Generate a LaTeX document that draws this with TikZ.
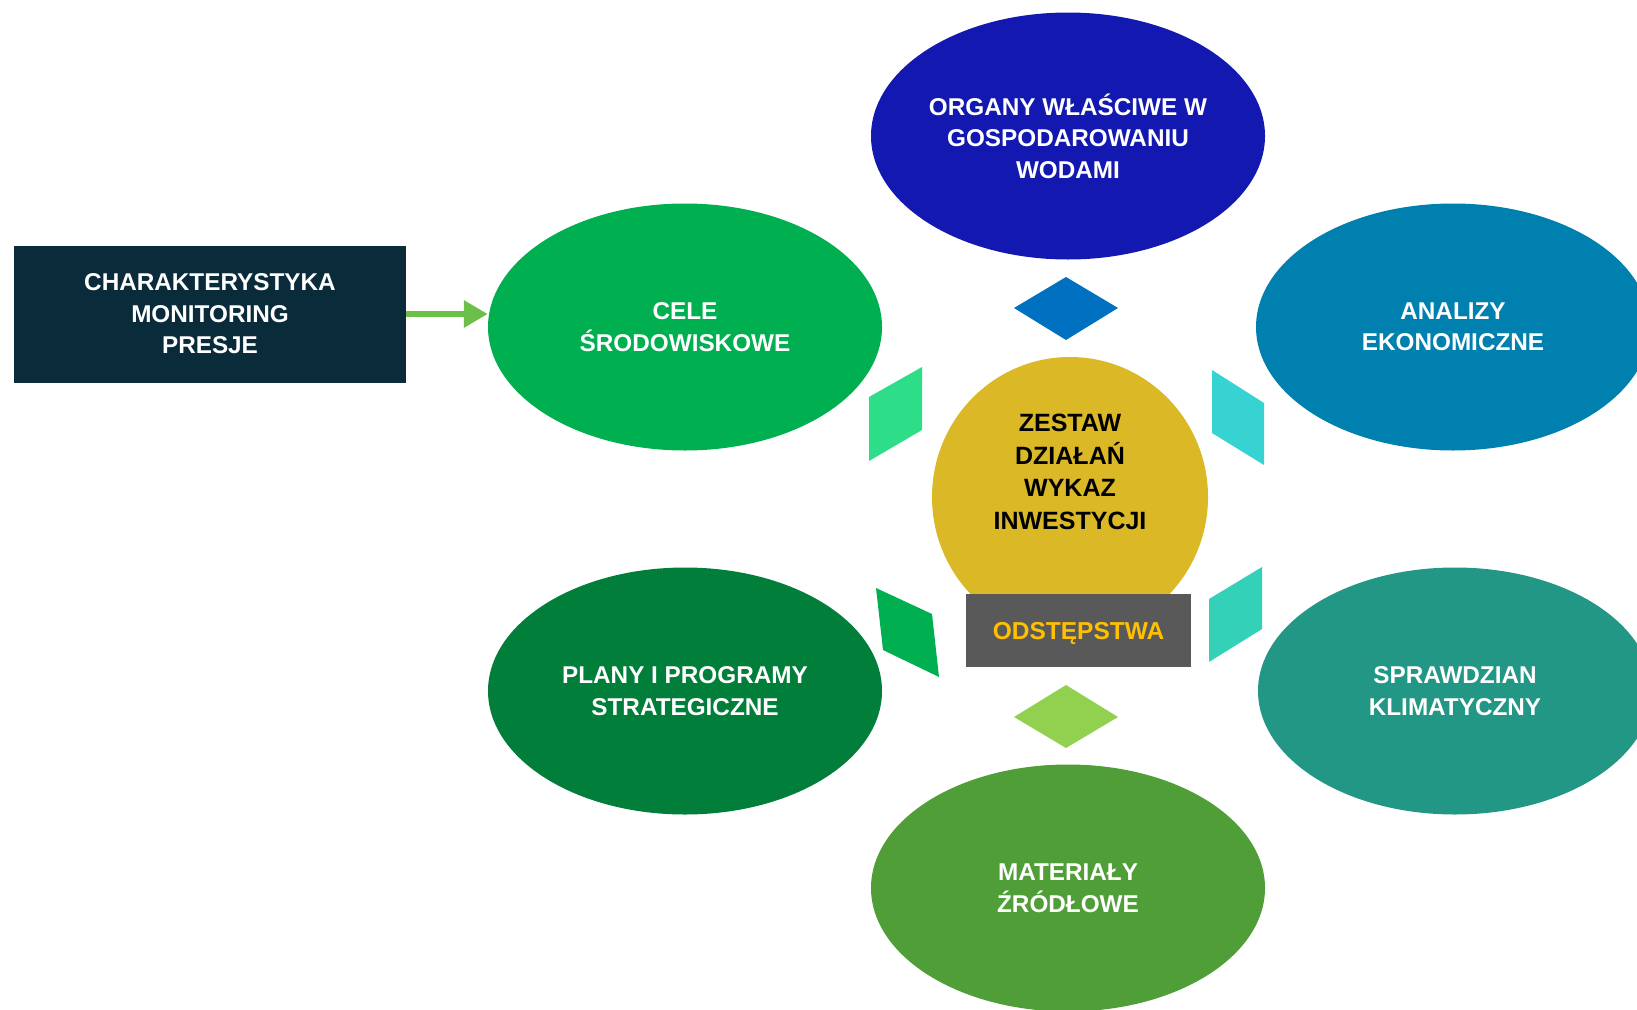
\documentclass[tikz,border=0pt]{standalone}
\usepackage{fontspec}
\setmainfont{Liberation Sans}
\usetikzlibrary{shapes.geometric,arrows.meta}
\definecolor{cOrg}{RGB}{19,24,176}
\definecolor{cCele}{RGB}{0,176,80}
\definecolor{cAna}{RGB}{0,128,175}
\definecolor{cPlany}{RGB}{0,126,58}
\definecolor{cSpr}{RGB}{34,151,133}
\definecolor{cMat}{RGB}{80,158,55}
\definecolor{cCenter}{RGB}{218,184,38}
\definecolor{cBox}{RGB}{89,89,89}
\definecolor{cOdst}{RGB}{255,192,0}
\definecolor{cChar}{RGB}{10,44,58}
\definecolor{cArrow}{RGB}{108,192,74}
\definecolor{cDTop}{RGB}{0,112,192}
\definecolor{cDBot}{RGB}{146,208,80}
\definecolor{cPLU}{RGB}{46,221,136}
\definecolor{cPRU}{RGB}{55,210,210}
\definecolor{cPRL}{RGB}{52,209,185}
\definecolor{cPLL}{RGB}{0,176,80}
\tikzset{
  oval/.style={ellipse, minimum width=394pt, minimum height=247pt, inner sep=0pt,
    text=white, align=center, font=\bfseries\fontsize{24.3}{31.5}\selectfont},
}
\begin{document}
\begin{tikzpicture}[x=1pt,y=-1pt]
\useasboundingbox (0,0) rectangle (1637,1009);
\clip (0,0) rectangle (1637,1009);
\fill[white] (0,0) rectangle (1637,1009);
% ovals
\node[oval, fill=cOrg] (org) at (1068,136) {ORGANY WŁAŚCIWE W\\GOSPODAROWANIU\\WODAMI};
\node[oval, fill=cCele] (cele) at (685,327) {CELE\\ŚRODOWISKOWE};
\node[oval, fill=cAna] (ana) at (1453,327) {ANALIZY\\EKONOMICZNE};
\node[oval, fill=cPlany] (plany) at (685,691) {PLANY I PROGRAMY\\STRATEGICZNE};
\node[oval, fill=cSpr] (spr) at (1455,691) {SPRAWDZIAN\\KLIMATYCZNY};
\node[oval, fill=cMat] (mat) at (1068,888) {MATERIAŁY\\ŹRÓDŁOWE};
% connector shapes
\fill[cDTop] (1014,308) -- (1066,277) -- (1118,308) -- (1066,340) -- cycle;
\fill[cDBot] (1014,717) -- (1066,685) -- (1118,717) -- (1066,748) -- cycle;
\fill[cPLU] (922,367) -- (922,430) -- (869,461) -- (869,397) -- cycle;
\fill[cPRU] (1212,370) -- (1264,403) -- (1264,465) -- (1212,433) -- cycle;
\fill[cPRL] (1262,567) -- (1262,629) -- (1209,662) -- (1209,599) -- cycle;
\fill[cPLL] (876,588) -- (932,614) -- (939,677) -- (883,650) -- cycle;
% center
\node[ellipse, fill=cCenter, minimum width=276pt, minimum height=280pt, inner sep=0pt] (center) at (1070,497) {};
\node[align=center, text=black, font=\bfseries\fontsize{25}{32.5}\selectfont] (centertext) at (1070,472) {ZESTAW\\DZIAŁAŃ\\WYKAZ\\INWESTYCJI};
\node[fill=cBox, minimum width=225pt, minimum height=73pt, inner sep=0pt, text height=17.5pt, text depth=0pt, text=cOdst, font=\bfseries\fontsize{24.5}{30}\selectfont] (odst) at (1078.5,630.5) {ODSTĘPSTWA};
% left box
\node[fill=cChar, minimum width=392pt, minimum height=137pt, inner sep=0pt, text=white, align=center, font=\bfseries\fontsize{24.3}{31.5}\selectfont] (char) at (210,314) {CHARAKTERYSTYKA\\MONITORING\\PRESJE};
\draw[cArrow, line width=6pt, -{Triangle[length=24pt,width=26pt]}] (char.east) -- (char.east -| cele.west);
\end{tikzpicture}
\end{document}
